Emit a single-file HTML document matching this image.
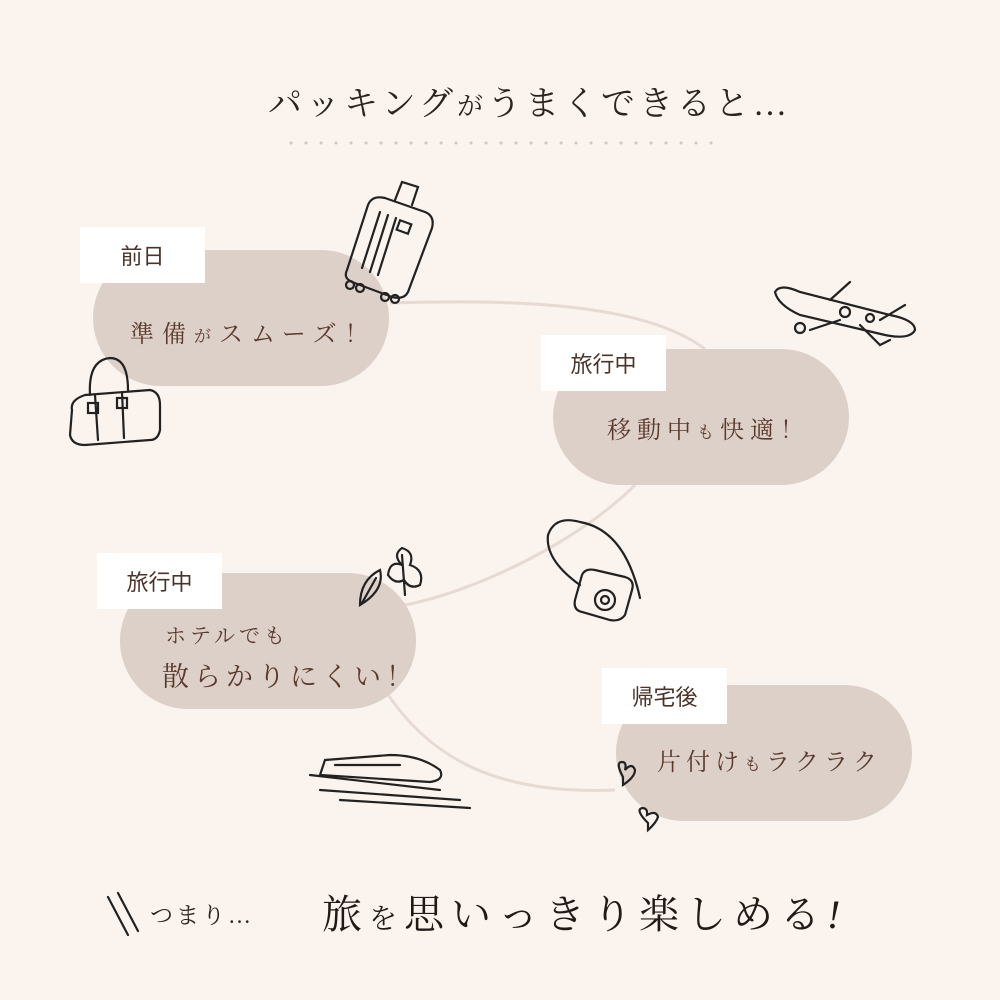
<!DOCTYPE html>
<html><head><meta charset="utf-8"><style>
body{margin:0;width:1000px;height:1000px;overflow:hidden;background:#faf3ee;font-family:"Liberation Serif","Noto Serif CJK SC",serif;color:#4a3328;position:relative}
.pill{position:absolute;background:#ddd0c9;border-radius:68px;height:136px;width:296px}
.lab{position:absolute;background:#fff;height:56px;width:125px;font-size:22px;display:flex;align-items:center;justify-content:center;font-family:"Noto Sans CJK JP",sans-serif;color:#4a3328}
.t{position:absolute;font-size:24px;letter-spacing:6px;color:#5a3a2c;white-space:nowrap}
svg{position:absolute;left:0;top:0}
</style></head><body>
<svg width="1000" height="1000">
<path d="M390,303 C500,300 640,300 705,349" fill="none" stroke="#e6dad3" stroke-width="3"/>
<path d="M635,485 C580,540 480,590 405,605" fill="none" stroke="#e6dad3" stroke-width="3"/>
<path d="M385,690 C430,760 500,795 615,790" fill="none" stroke="#e6dad3" stroke-width="3"/>
</svg>
<div class="pill" style="left:93px;top:250px"></div>
<div class="pill" style="left:553px;top:349px"></div>
<div class="pill" style="left:120px;top:573px"></div>
<div class="pill" style="left:616px;top:685px"></div>
<div class="lab" style="left:80px;top:227px">前日</div>
<div class="lab" style="left:541px;top:335px">旅行中</div>
<div class="lab" style="left:97px;top:553px">旅行中</div>
<div class="lab" style="left:602px;top:668px">帰宅後</div>
<div class="t" style="left:130px;top:314px;letter-spacing:8px">準備<span style="font-size:17px">が</span>スムーズ<span style="font-family:'Noto Serif CJK SC',serif">！</span></div>
<div class="t" style="left:607px;top:410px">移動中<span style="font-size:17px">も</span>快適<span style="font-family:'Noto Serif CJK SC',serif">！</span></div>
<div class="t" style="left:165px;top:620px;font-size:21px;letter-spacing:4px">ホテルでも</div>
<div class="t" style="left:162px;top:655px;font-size:27px;letter-spacing:5px">散らかりにくい<span style="font-family:'Noto Serif CJK SC',serif">！</span></div>
<div class="t" style="left:657px;top:742px;letter-spacing:5px">片付け<span style="font-size:17px">も</span>ラクラク</div>
<div class="t" style="left:268px;top:76px;font-size:34px;letter-spacing:4px;color:#2a2420">パッキング<span style="font-size:26px">が</span>うまくできると…</div>
<svg width="1000" height="1000">
<line x1="291" y1="143" x2="712" y2="143" stroke="#d3c7c0" stroke-width="3" stroke-dasharray="0.1 14.9" stroke-linecap="round"/>
<g fill="none" stroke="#222" stroke-width="2.2" stroke-linecap="round">
<path d="M347,270 L368,205 Q372,195 385,198 L425,212 Q435,216 432,228 L408,292 Q404,300 392,297 L352,282 Q343,278 347,270Z"/>
<path d="M395,200 L402,182 L418,187 L412,205"/>
<path d="M362,268 L380,212 M370,272 L388,215 M378,275 L396,218"/>
<rect x="398" y="222" width="12" height="10" transform="rotate(20 404 227)"/>
<circle cx="350" cy="285" r="4"/><circle cx="360" cy="288" r="4"/><circle cx="385" cy="297" r="4"/><circle cx="395" cy="299" r="4"/>
<path d="M72,410 Q70,400 85,395 L150,390 Q160,392 160,405 L160,430 Q158,440 150,440 L85,445 Q72,445 70,435Z"/>
<path d="M90,395 Q88,360 110,358 Q128,358 128,390"/>
<path d="M95,395 L98,440 M122,392 L124,438"/>
<rect x="88" y="403" width="10" height="10"/><rect x="117" y="398" width="10" height="10"/>
<path d="M775,292 Q780,283 800,292 L890,315 Q915,320 915,330 Q910,340 885,335 L800,315 Q778,305 775,292Z"/>
<path d="M830,300 L850,282 M840,320 L810,330 M860,325 L880,345 L890,340 M880,320 L905,305"/>
<circle cx="845" cy="312" r="5"/><circle cx="800" cy="328" r="5"/><circle cx="870" cy="318" r="4"/>
<path d="M575,600 L582,575 Q585,568 595,570 L625,577 Q635,580 632,590 L625,615 Q620,622 610,620 L582,612 Q573,610 575,600Z"/>
<circle cx="605" cy="600" r="10"/><circle cx="605" cy="600" r="4"/>
<path d="M580,585 Q545,560 548,535 Q555,515 580,522 Q625,530 640,598"/>
<path d="M360,605 Q360,580 380,570 Q385,590 360,605Z M362,603 L376,578"/>
<path d="M405,595 L402,555 M402,565 Q390,560 388,575 Q395,585 404,580 Q410,590 420,585 Q425,570 410,565 Q415,552 402,548 Q392,555 402,565"/>
<path d="M325,760 L390,755 Q420,755 440,770 Q445,780 430,782 L320,775 Z"/>
<path d="M310,775 L440,790 M320,790 L460,800 M340,800 L470,808 M335,765 L400,765"/>
<path d="M623,777 Q615,762 622,762 Q627,762 625,770 Q632,762 635,770 Q635,777 623,785Z"/>
<path d="M648,823 Q635,810 642,808 Q648,808 647,815 Q656,810 658,817 Q656,823 648,830Z"/>
<path d="M108,897 L128,935 M118,893 L138,931"/>
</g>
</svg>
<div class="t" style="left:150px;top:897px;font-size:23px;letter-spacing:3px;color:#2a2420">つまり…</div>
<div class="t" style="left:322px;top:883px;font-size:40px;letter-spacing:7px;color:#1f1a17">旅<span style="font-size:28px">を</span>思いっきり楽しめる<i>!</i></div>
</body></html>
